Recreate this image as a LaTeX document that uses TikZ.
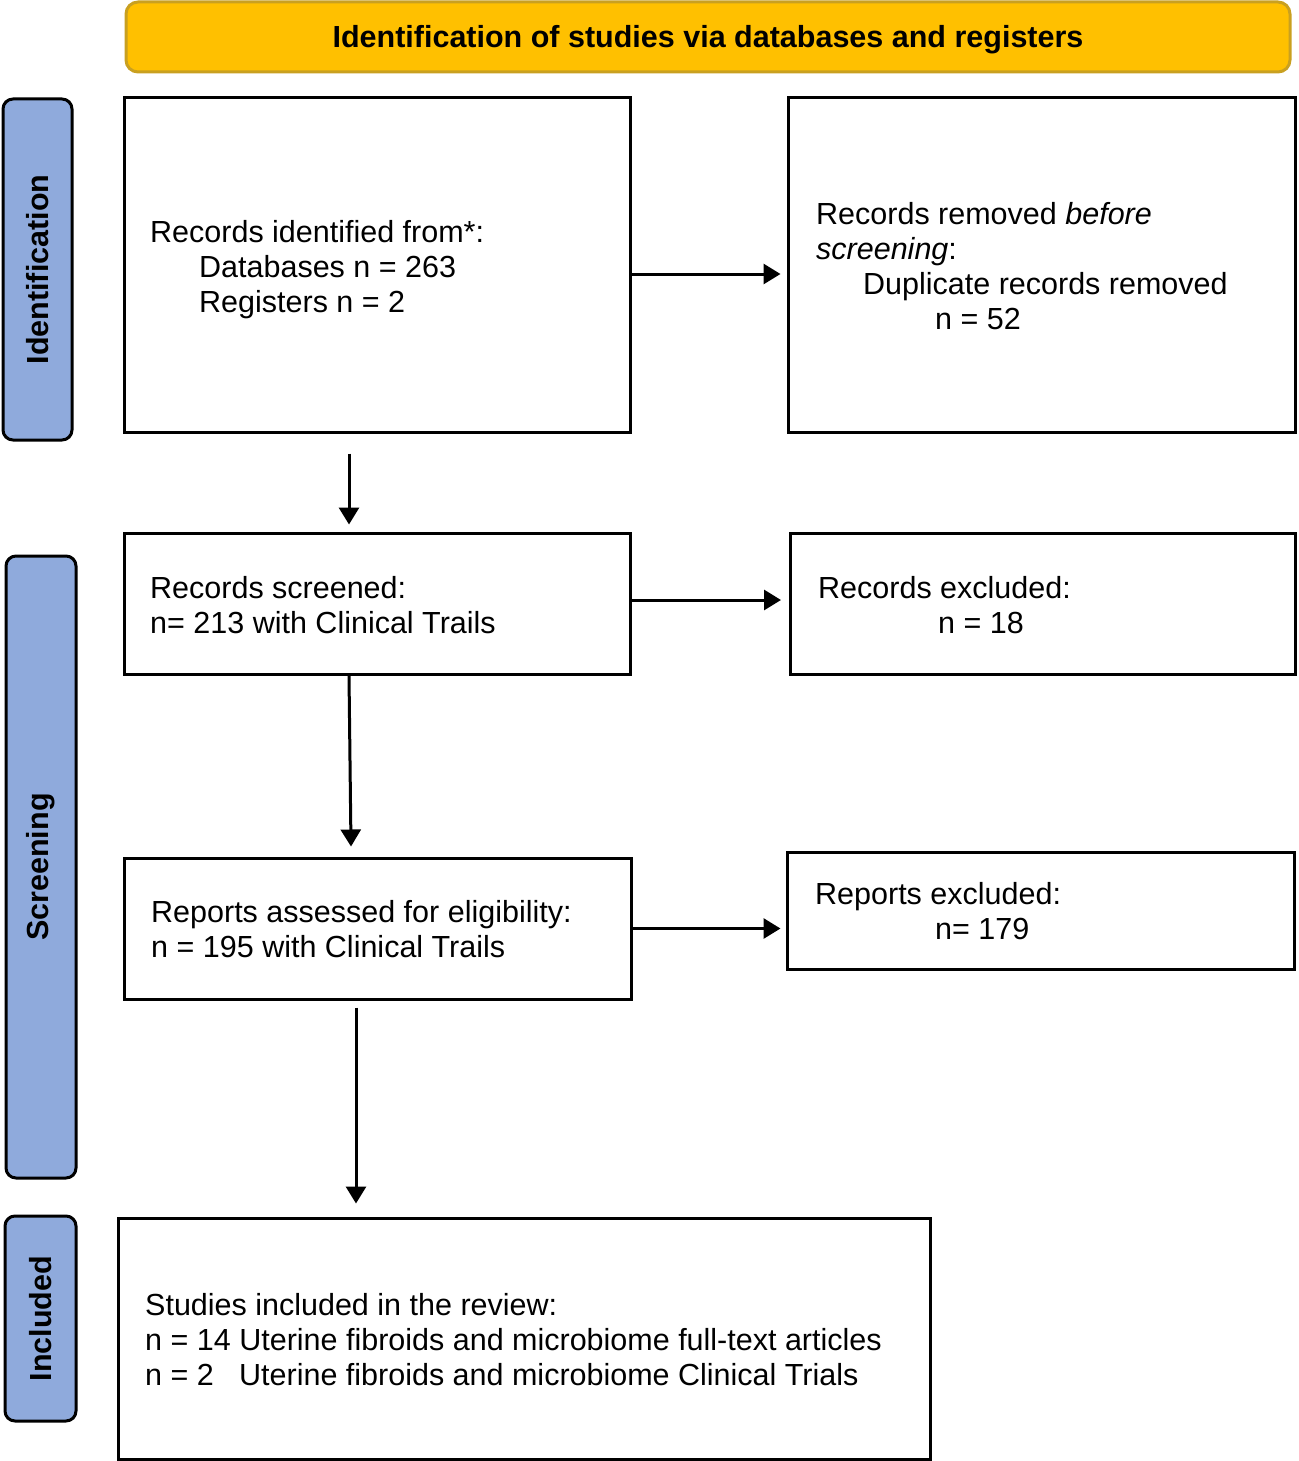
\documentclass[tikz,border=0pt]{standalone}
\usepackage{fontspec}
\setmainfont{Liberation Sans}
\usetikzlibrary{arrows.meta}
\definecolor{bannerfill}{HTML}{FFC000}
\definecolor{bannerdraw}{HTML}{C9A020}
\definecolor{sidefill}{HTML}{8FAADC}
\begin{document}
\begin{tikzpicture}[x=1pt,y=-1pt,
  box/.style={draw=black,line width=3pt,fill=white,inner sep=0pt},
  side/.style={draw=black,line width=3pt,fill=sidefill,rounded corners=10pt,rotate=90,inner sep=0pt,font=\fontsize{30.5}{35}\selectfont\bfseries},
  txt/.style={anchor=west,align=left,inner sep=0pt,font=\fontsize{30.5}{35}\selectfont},
  arr/.style={line width=3pt,-{Triangle[length=17pt,width=20pt]}}]
\useasboundingbox (0,0) rectangle (1298,1461);
% banner
\node[draw=bannerdraw,line width=3pt,fill=bannerfill,rounded corners=12pt,minimum width=1164pt,minimum height=70pt,inner sep=0pt] (banner) at (708,37) {};
\node[inner sep=0pt,font=\fontsize{30.5}{35}\selectfont\bfseries] (title) at (708,40) {Identification of studies via databases and registers};
% side labels
\node[side,minimum width=341pt,minimum height=69pt] (sid) at (37.5,269.5) {Identification};
\node[side,minimum width=622pt,minimum height=70pt] (sscr) at (41,867) {Screening};
\node[side,minimum width=205pt,minimum height=71pt] (sinc) at (40.5,1318.5) {Included};
% boxes
\node[box,minimum width=506pt,minimum height=334pt] (b1) at (377,265) {};
\node[box,minimum width=507pt,minimum height=334pt] (b2) at (1041.5,265) {};
\node[box,minimum width=506pt,minimum height=141pt] (b3) at (377,603.5) {};
\node[box,minimum width=505pt,minimum height=141pt] (b4) at (1043,603.5) {};
\node[box,minimum width=507pt,minimum height=141pt] (b5) at (377.5,928.5) {};
\node[box,minimum width=507pt,minimum height=117pt] (b6) at (1040.5,910.5) {};
\node[box,minimum width=812pt,minimum height=241pt] (b7) at (524,1338.5) {};
% texts
\node[txt] (t1) at (150,269.5) {Records identified from*:\\\hspace*{49pt}Databases n = 263\\\hspace*{49pt}Registers n = 2};
\node[txt] (t2) at (816,266) {Records removed \textit{before}\\\textit{screening}:\\\hspace*{47pt}Duplicate records removed\\\hspace*{119pt}n = 52};
\node[txt] (t3) at (150,605) {Records screened:\\n= 213 with Clinical Trails};
\node[txt] (t4) at (818,605) {Records excluded:\\\hspace*{120pt}n = 18};
\node[txt] (t5) at (151,929) {Reports assessed for eligibility:\\n = 195 with Clinical Trails};
\node[txt] (t6) at (815,911) {Reports excluded:\\\hspace*{120pt}n= 179};
\node[txt] (t7) at (145,1340) {Studies included in the review:\\n = 14 Uterine fibroids and microbiome full-text articles\\\makebox[94pt][l]{n = 2}Uterine fibroids and microbiome Clinical Trials};
% arrows
\draw[arr,shorten >=6pt] ([yshift=-9pt]b1.east) -- ([yshift=-9pt]b2.west);
\draw[arr] ([xshift=-28pt,yshift=-20pt]b1.south) -- ([xshift=-28pt,yshift=7pt]b3.north);
\draw[arr,shorten >=8pt] ([yshift=3.5pt]b3.east) -- ([yshift=3.5pt]b3.east -| b4.west);
\draw[arr] ([xshift=-28pt]b3.south) -- ([xshift=-26.5pt,yshift=10pt]b5.north);
\draw[arr,shorten >=5pt] (b5.east) -- (b5.east -| b6.west);
\coordinate (s5) at ([xshift=-21.5pt,yshift=-7pt]b5.south);
\draw[arr,shorten >=13pt] (s5) -- (s5 |- b7.north);
\end{tikzpicture}
\end{document}
